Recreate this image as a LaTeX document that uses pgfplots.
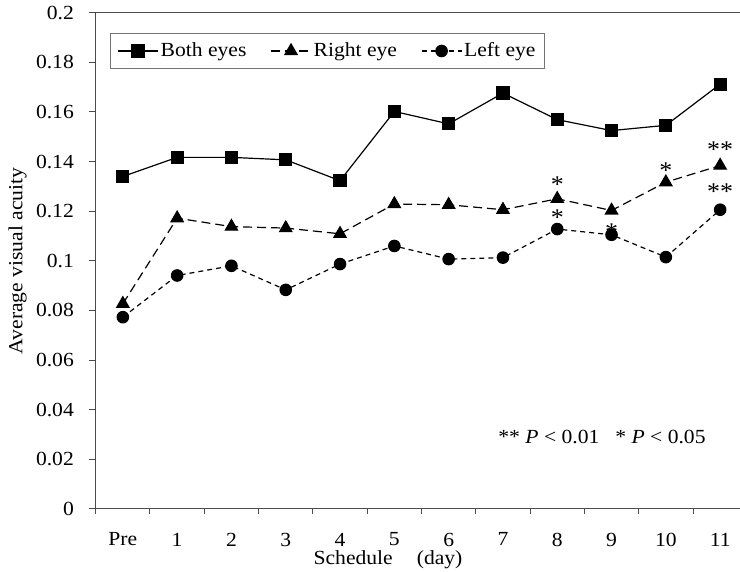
\documentclass[border=0pt]{standalone}
\usepackage{fontspec}
\setmainfont[FakeStretch=1.08]{Liberation Serif}
\usepackage{pgfplots}
\pgfplotsset{compat=1.18}

\begin{document}
\fontsize{20}{24}\selectfont
\begin{tikzpicture}
\begin{axis}[
    scale only axis,
    width=651.6pt, height=496.3pt,
    xmin=-0.5, xmax=11.5,
    ymin=0, ymax=0.2,
    axis line style={black!70, line width=1pt},
    xtick={0,1,2,3,4,5,6,7,8,9,10,11},
    xticklabels={Pre,1,2,3,4,5,6,7,8,9,10,11},
    major x tick style={draw=none},
    minor xtick={-0.5,0.5,1.5,2.5,3.5,4.5,5.5,6.5,7.5,8.5,9.5,10.5},
    minor tick length=5pt,
    major tick length=7pt,
    tick style={black!70, line width=1pt},
    tick align=outside,
    tick pos=left,
    ytick={0,0.02,0.04,0.06,0.08,0.1,0.12,0.14,0.16,0.18,0.2},
    scaled y ticks=false,
    yticklabel style={/pgf/number format/fixed, /pgf/number format/precision=2, xshift=-8pt},
    xticklabel style={yshift=-10pt},
    /pgf/number format/assume math mode=true,
    xlabel={Schedule\hspace{1.2em}(day)},
    xlabel style={at={(axis description cs:0.4486,-0.1028)}, anchor=center},
    ylabel={Average visual acuity},
    ylabel style={at={(axis description cs:-0.120,0.5)}, anchor=center, rotate=0},
    legend columns=3,
    legend style={at={(axis description cs:0.022,0.959)}, anchor=north west,
        draw=black!55, line width=0.8pt, inner xsep=7pt, inner ysep=7pt,
        /tikz/every even column/.append style={column sep=22pt}},
    legend image code/.code={
        \draw[mark repeat=2, mark phase=2, #1] plot coordinates {(0pt,0pt) (20pt,0pt) (40pt,0pt)};},
]

\addplot[black, line width=1.2pt, mark=square*, mark size=6pt, mark options={solid}]
coordinates {
(0,0.1340)(1,0.1417)(2,0.1417)(3,0.1407)(4,0.1323)(5,0.1602)
(6,0.1552)(7,0.1676)(8,0.1569)(9,0.1525)(10,0.1546)(11,0.1712)
};
\addlegendentry{Both eyes}

\addplot[black, line width=1.2pt, dash pattern=on 9pt off 5pt, mark=triangle*, mark size=7pt, mark options={solid}]
coordinates {
(0,0.0827)(1,0.1172)(2,0.1138)(3,0.1132)(4,0.1109)(5,0.1229)
(6,0.1226)(7,0.1206)(8,0.1250)(9,0.1203)(10,0.1317)(11,0.1384)
};
\addlegendentry{Right eye}

\addplot[black, line width=1.2pt, dash pattern=on 5pt off 4pt, mark=*, mark size=5.7pt, mark options={solid}]
coordinates {
(0,0.0773)(1,0.0941)(2,0.0980)(3,0.0883)(4,0.0987)(5,0.1060)
(6,0.1007)(7,0.1013)(8,0.1128)(9,0.1105)(10,0.1015)(11,0.1206)
};
\addlegendentry{Left eye}

\begin{scope}[every node/.style={anchor=base, yshift=-11pt, font=\fontsize{24}{24}\selectfont, inner sep=0pt}]
\node at (axis cs:8,0.1320) {*};
\node at (axis cs:10,0.1376) {*};
\node at (axis cs:11,0.1460) {**};
\node at (axis cs:8,0.1185) {*};
\node at (axis cs:9,0.1132) {*};
\node at (axis cs:11,0.1290) {**};
\end{scope}

\node at (axis description cs:0.777,0.145) {** \textit{P} < 0.01\hspace{0.8em}* \textit{P} < 0.05};

\end{axis}
\pgfresetboundingbox
\path[use as bounding box] (-95.7pt,-63pt) rectangle (644.3pt,509pt);
\end{tikzpicture}
\end{document}
